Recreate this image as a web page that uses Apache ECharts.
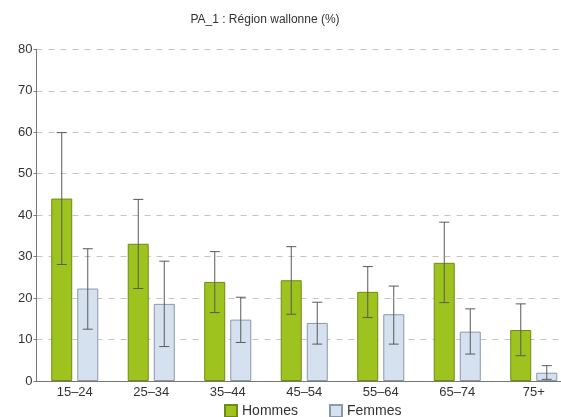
<!DOCTYPE html>
<html>
<head>
<meta charset="utf-8">
<script src="https://cdn.jsdelivr.net/npm/echarts@6/dist/echarts.min.js"></script>
<style>html,body{margin:0;padding:0;background:#fff;overflow:hidden;width:561px;height:417px}#c{width:572px;height:417px}</style>
</head>
<body>
<div id="c"></div>
<script>
var categories = ['15–24', '25–34', '35–44', '45–54', '55–64', '65–74', '75+'];
var hommes = [44.0, 33.1, 23.9, 24.3, 21.5, 28.5, 12.3];
var hommesLow = [28.1, 22.3, 16.5, 16.1, 15.3, 18.9, 6.1];
var hommesHigh = [59.9, 43.8, 31.2, 32.4, 27.6, 38.3, 18.6];
var femmes = [22.3, 18.6, 14.8, 14.0, 16.1, 11.9, 2.0];
var femmesLow = [12.5, 8.3, 9.3, 8.9, 8.9, 6.5, 0.4];
var femmesHigh = [31.9, 28.9, 20.2, 19.0, 22.9, 17.4, 3.7];
var yTicks = [0, 10, 20, 30, 40, 50, 60, 70, 80];

var chart = echarts.init(document.getElementById('c'));

function errData(low, high) {
  return categories.map(function (c, i) { return [i, low[i], high[i]]; });
}
function errRender(offset) {
  return function (params, api) {
    var i = api.value(0);
    var lo = api.coord([i, api.value(1)]);
    var hi = api.coord([i, api.value(2)]);
    var x = lo[0] + offset;
    var cap = 5;
    var st = { stroke: '#5a5a5a', lineWidth: 1 };
    return {
      type: 'group',
      children: [
        { type: 'line', shape: { x1: x, y1: hi[1], x2: x, y2: lo[1] }, style: st },
        { type: 'line', shape: { x1: x - cap, y1: hi[1], x2: x + cap, y2: hi[1] }, style: st },
        { type: 'line', shape: { x1: x - cap, y1: lo[1], x2: x + cap, y2: lo[1] }, style: st }
      ]
    };
  };
}

chart.setOption({
  animation: false,
  textStyle: { fontFamily: 'Liberation Sans, Arial, sans-serif' },
  title: {
    text: 'PA_1 : Région wallonne (%)',
    left: 265, textAlign: 'center', top: 14, padding: 0,
    textStyle: { fontSize: 12, fontWeight: 'normal', color: '#333' }
  },
  legend: {
    left: 224, top: 404, padding: 0,
    itemWidth: 12, itemHeight: 12, itemGap: 31,
    textStyle: { fontSize: 14, color: '#333' },
    data: [
      { name: 'Hommes', icon: 'rect' },
      { name: 'Femmes', icon: 'rect' }
    ]
  },
  grid: { left: 36.5, top: 49.3, right: 0, bottom: 36, containLabel: false },
  xAxis: {
    type: 'category',
    data: categories,
    axisLine: { lineStyle: { color: '#777' } },
    axisTick: { show: false },
    axisLabel: { color: '#333', fontSize: 13, margin: 5 }
  },
  yAxis: {
    type: 'value',
    min: 0, max: 80, interval: 10,
    axisLine: { show: true, lineStyle: { color: '#777' } },
    axisTick: { show: true, length: 3, lineStyle: { color: '#777' } },
    axisLabel: { color: '#333', fontSize: 13, margin: 4,
      formatter: function (v) { return yTicks.indexOf(v) >= 0 ? String(v) : ''; } },
    splitLine: { lineStyle: { color: '#c4c4c4', type: [6, 6] } }
  },
  series: [
    {
      name: 'Hommes', type: 'bar', data: hommes,
      barWidth: 21, barGap: '24%',
      itemStyle: { color: '#9fc31e', borderColor: '#6e8c14', borderWidth: 1 }
    },
    {
      name: 'Femmes', type: 'bar', data: femmes,
      barWidth: 21, barGap: '24%',
      itemStyle: { color: '#d6e1ef', borderColor: '#8a98ab', borderWidth: 1 }
    },
    {
      type: 'custom', name: 'errH', data: errData(hommesLow, hommesHigh),
      renderItem: errRender(-13), z: 10, silent: true,
      encode: { x: 0, y: [1, 2] }
    },
    {
      type: 'custom', name: 'errF', data: errData(femmesLow, femmesHigh),
      renderItem: errRender(13), z: 10, silent: true,
      encode: { x: 0, y: [1, 2] }
    }
  ]
});
</script>
</body>
</html>
